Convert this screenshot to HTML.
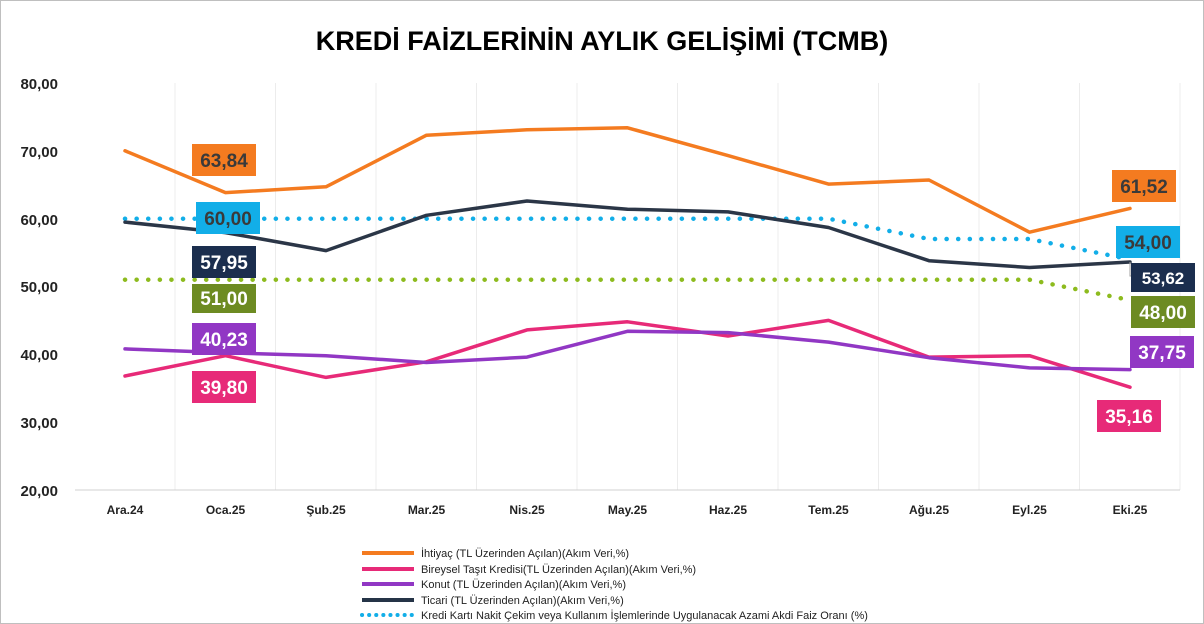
<!DOCTYPE html>
<html><head><meta charset="utf-8"><style>
html,body{margin:0;padding:0;background:#fff}
svg{display:block;font-family:"Liberation Sans",sans-serif}
</style></head><body>
<svg id="s" width="1204" height="624" viewBox="0 0 1204 624" xmlns="http://www.w3.org/2000/svg">
<rect x="0.5" y="0.5" width="1203" height="623" fill="#fff" stroke="#bfbfbf"/>
<text x="602" y="50" text-anchor="middle" font-size="27" font-weight="bold" fill="#000">KREDİ FAİZLERİNİN AYLIK GELİŞİMİ  (TCMB)</text>
<g id="grid" stroke="#ececec" stroke-width="1"></g>
<g font-size="15" font-weight="bold" fill="#222" text-anchor="end">
<text x="58" y="89">80,00</text><text x="58" y="157">70,00</text><text x="58" y="225">60,00</text>
<text x="58" y="292">50,00</text><text x="58" y="360">40,00</text><text x="58" y="428">30,00</text><text x="58" y="496">20,00</text>
</g>
<g font-size="12" font-weight="bold" fill="#222" text-anchor="middle" id="xl">
<text x="125" y="514">Ara.24</text><text x="225.5" y="514">Oca.25</text><text x="326" y="514">Şub.25</text><text x="426.5" y="514">Mar.25</text><text x="527" y="514">Nis.25</text><text x="627.5" y="514">May.25</text><text x="728" y="514">Haz.25</text><text x="828.5" y="514">Tem.25</text><text x="929" y="514">Ağu.25</text><text x="1029.5" y="514">Eyl.25</text><text x="1130" y="514">Eki.25</text>
</g>
<g id="lines" fill="none"></g>
<polyline points="1130,262 1130,276 1138,276" fill="none" stroke="#a0a0a0" stroke-width="1"/>
<g font-size="19" font-weight="bold" text-anchor="middle">
<rect x="192" y="144" width="64" height="32" fill="#f47b20"/><text x="224" y="167" fill="#3a3a3a">63,84</text>
<rect x="196" y="202" width="64" height="32" fill="#12aee8"/><text x="228" y="225" fill="#3a3a3a">60,00</text>
<rect x="192" y="246" width="64" height="32" fill="#1b2e4e"/><text x="224" y="269" fill="#fff">57,95</text>
<rect x="192" y="284" width="64" height="29" fill="#6d8b22"/><text x="224" y="305" fill="#fff">51,00</text>
<rect x="192" y="323" width="64" height="32" fill="#9137c4"/><text x="224" y="346" fill="#fff">40,23</text>
<rect x="192" y="371" width="64" height="32" fill="#e72a78"/><text x="224" y="394" fill="#fff">39,80</text>
<rect x="1112" y="170" width="64" height="32" fill="#f47b20"/><text x="1144" y="193" fill="#3a3a3a">61,52</text>
<rect x="1116" y="226" width="64" height="32" fill="#12aee8"/><text x="1148" y="249" fill="#3a3a3a">54,00</text>
<rect x="1131" y="263" width="64" height="29" fill="#1b2e4e"/><text x="1163" y="284" fill="#fff" font-size="17">53,62</text>
<rect x="1131" y="296" width="64" height="32" fill="#6d8b22"/><text x="1163" y="319" fill="#fff">48,00</text>
<rect x="1130" y="336" width="64" height="32" fill="#9137c4"/><text x="1162" y="359" fill="#fff">37,75</text>
<rect x="1097" y="400" width="64" height="32" fill="#e72a78"/><text x="1129" y="423" fill="#fff">35,16</text>
</g>
<g font-size="11" fill="#222">
<line x1="362" y1="553" x2="414" y2="553" stroke="#f47b20" stroke-width="4"/><text x="421" y="557">İhtiyaç (TL Üzerinden Açılan)(Akım Veri,%)</text>
<line x1="362" y1="569" x2="414" y2="569" stroke="#e72a78" stroke-width="4"/><text x="421" y="573">Bireysel Taşıt Kredisi(TL Üzerinden Açılan)(Akım Veri,%)</text>
<line x1="362" y1="584" x2="414" y2="584" stroke="#9137c4" stroke-width="4"/><text x="421" y="588">Konut (TL Üzerinden Açılan)(Akım Veri,%)</text>
<line x1="362" y1="600" x2="414" y2="600" stroke="#253447" stroke-width="4"/><text x="421" y="604">Ticari (TL Üzerinden Açılan)(Akım Veri,%)</text>
<line x1="362" y1="615" x2="414" y2="615" stroke="#12aee8" stroke-width="4" stroke-dasharray="0.1 7" stroke-linecap="round"/><text x="421" y="619">Kredi Kartı Nakit Çekim veya Kullanım İşlemlerinde  Uygulanacak Azami Akdi Faiz Oranı (%)</text>
</g>
</svg>
<script>
const X=i=>125+i*100.5, Y=v=>490-(v-20)*6.783;
const g=document.getElementById('grid');
let h='';for(let i=0;i<11;i++){h+=`<line x1="${X(i)+50}" y1="83" x2="${X(i)+50}" y2="490"/>`;}
h+='<line x1="75" y1="490" x2="1180" y2="490" stroke="#d0d0d0"/>';
g.innerHTML=h;
const S=[
["#8dbb1e",[51,51,51,51,51,51,51,51,51,51,48],1],
["#12aee8",[60,60,60,60,60,60,60,60,57,57,54],1],
["#e72a78",[36.8,39.8,36.6,38.9,43.6,44.8,42.7,45.0,39.6,39.8,35.16]],
["#9137c4",[40.8,40.23,39.8,38.8,39.6,43.4,43.2,41.8,39.5,38.0,37.75]],
["#2b3647",[59.5,57.95,55.3,60.5,62.6,61.4,61.0,58.7,53.8,52.8,53.62]],
["#f47b20",[70.0,63.84,64.7,72.3,73.1,73.4,69.3,65.1,65.7,58.0,61.52]]];
let l='';
for(const [c,d,dot] of S){
 const p=d.map((v,i)=>X(i).toFixed(1)+','+Y(v).toFixed(1)).join(' ');
 l+=`<polyline points="${p}" stroke="${c}" stroke-width="${dot?4.5:3.5}" stroke-linejoin="round" stroke-linecap="round" ${dot?'stroke-dasharray="0.1 11.5"':''}/>`;
}
document.getElementById('lines').innerHTML=l;
</script>
</body></html>
